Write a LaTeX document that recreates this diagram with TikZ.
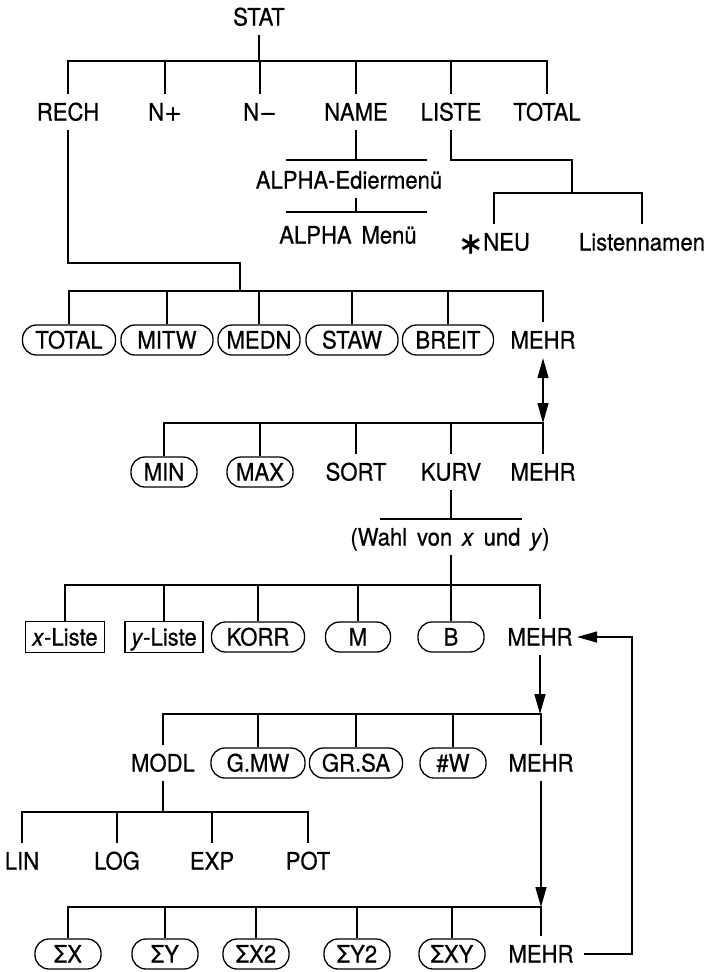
\documentclass[tikz,border=0pt]{standalone}
\usepackage{fontspec}
\setmainfont{TeX Gyre Heros}[FakeStretch=0.92,FakeBold=0.6,WordSpace=1.6]
\newfontfamily\symfont{DejaVu Sans}[FakeBold=0.8]
\newcommand{\opsym}[1]{{\symfont\fontsize{21pt}{24pt}\selectfont #1}}
\usepackage{tikz}
\usetikzlibrary{arrows.meta}
\tikzset{
  lbl/.style={inner xsep=4pt,inner ysep=9pt,text height=17pt,text depth=0pt},
  pill/.style={rectangle,rounded corners=14pt,draw,minimum width=#1,minimum height=30pt,
    inner xsep=2pt,inner ysep=0pt,text height=17pt,text depth=0pt},
  pill/.default=66pt,
  kbox/.style={rectangle,draw,minimum width=#1,minimum height=31pt,
    inner xsep=2pt,inner ysep=0pt,text height=17pt,text depth=0pt},
  tip/.style={-{Triangle[length=20pt,width=11pt]}},
  dtip/.style={{Triangle[length=20pt,width=11pt]}-{Triangle[length=20pt,width=11pt]}},
}

\begin{document}
\begin{tikzpicture}[x=1pt,y=-1pt,line width=1.3pt,font=\fontsize{24pt}{28pt}\selectfont]
\useasboundingbox (0,0) rectangle (713,972);
% horizontal levels
\coordinate (b0) at (0,61);
\coordinate (b1) at (0,193);
\coordinate (b2) at (0,291);
\coordinate (b3) at (0,423);
\coordinate (b4) at (0,585);
\coordinate (b5) at (0,714);
\coordinate (b6) at (0,812);
\coordinate (b7) at (0,907);

% STAT menu
\node[lbl] (stat) at (259,17) {STAT};
\foreach \nm/\xx/\txt in {rech/68/RECH, nplus/165/N\opsym{+}, nminus/260/N\opsym{−},
    name/356/NAME, liste/451/LISTE, total/547/TOTAL}
  \node[lbl] (\nm) at (\xx,112) {\txt};
\draw (stat.south) -- (stat |- b0);
\draw (rech.north) -- (rech |- b0) -- (total |- b0) -- (total.north);
\foreach \nm in {nplus,nminus,name,liste}
  \draw (\nm.north) -- (\nm |- b0);

% NAME
\node[lbl] (edier) at (349,180) {ALPHA-Ediermenü};
\node[lbl] (amenu) at (348,235) {ALPHA Menü};
\coordinate (l1a) at (286,160);
\coordinate (l1b) at (427,160);
\coordinate (l2a) at (286,212);
\coordinate (l2b) at (427,212);
\draw (l1a) -- (l1b);
\draw (l2a) -- (l2b);
\draw (name.south) -- (name |- l1a);
\draw (name |- edier.south) -- (name |- l2a);

% LISTE
\node[lbl] (neu) at (494,242) {{\symfont\fontsize{30pt}{30pt}\selectfont\raisebox{-3pt}{∗}}NEU};
\node[lbl] (lnamen) at (642,242) {Listennamen};
\coordinate (k1) at (572,160);
\draw (liste.south) |- (k1) -- (k1 |- b1);
\draw (neu.north) -- (neu |- b1) -- (lnamen |- b1) -- (lnamen.north);

% RECH
\coordinate (k2) at (240,263);
\draw (rech.south) |- (k2) -- (k2 |- b2);
\foreach \nm/\xx/\pw/\txt in {totalB/69/93/TOTAL, mitw/167/92/MITW, medn/259/82/MEDN,
    staw/352/92/STAW, breit/448/91/BREIT}
  \node[pill=\pw pt] (\nm) at (\xx,340) {\txt};
\node[lbl] (mehrA) at (543,340) {MEHR};
\draw (totalB.north) -- (totalB |- b2) -- (mehrA |- b2) -- (mehrA.north);
\foreach \nm in {mitw,medn,staw,breit}
  \draw (\nm.north) -- (\nm |- b2);
\draw[dtip] (mehrA.south) -- (mehrA |- b3);

% second page
\node[pill] (minK) at (164,472) {MIN};
\node[pill] (maxK) at (260,472) {MAX};
\node[lbl] (sortK) at (356,472) {SORT};
\node[lbl] (kurv) at (451,472) {KURV};
\node[lbl] (mehrB) at (543,472) {MEHR};
\draw (minK.north) -- (minK |- b3) -- (mehrB |- b3) -- (mehrB.north);
\foreach \nm in {maxK,sortK,kurv}
  \draw (\nm.north) -- (\nm |- b3);

% KURV
\node[lbl] (wahl) at (450,537) {(Wahl von \textit{x} und \textit{y})};
\coordinate (l3a) at (380,519);
\coordinate (l3b) at (522,519);
\draw (l3a) -- (l3b);
\draw (kurv.south) -- (kurv |- l3a);
\draw (kurv |- wahl.south) -- (kurv |- b4);
\node[kbox=79pt] (xl) at (65,637) {\textit{x}-Liste};
\node[kbox=78pt] (yl) at (164,637) {\textit{y}-Liste};
\foreach \nm/\xx/\pw/\txt in {korr/258/93/KORR, mM/358/65/M, bB/451/66/B}
  \node[pill=\pw pt] (\nm) at (\xx,637) {\txt};
\node[lbl] (mehrC) at (540,637) {MEHR};
\draw (xl.north) -- (xl |- b4) -- (mehrC |- b4) -- (mehrC.north);
\foreach \nm in {yl,korr,mM,bB}
  \draw (\nm.north) -- (\nm |- b4);

% third page
\draw[tip] (mehrC.south) -- (mehrC |- b5);
\node[lbl] (modl) at (163,763) {MODL};
\foreach \nm/\xx/\pw/\txt in {gmw/258/94/G.MW, grsa/356/93/GR.SA, nw/453/66/\#W}
  \node[pill=\pw pt] (\nm) at (\xx,763) {\txt};
\node[lbl] (mehrD) at (541,763) {MEHR};
\draw (modl.north) -- (modl |- b5) -- (mehrD |- b5) -- (mehrD.north);
\foreach \nm in {gmw,grsa,nw}
  \draw (\nm.north) -- (\nm |- b5);

% MODL
\foreach \nm/\xx/\txt in {lin/22/LIN, logK/117/LOG, expK/212/EXP, pot/308/POT}
  \node[lbl] (\nm) at (\xx,861) {\txt};
\draw (modl.south) -- (modl |- b6);
\draw (lin.north) -- (lin |- b6) -- (pot |- b6) -- (pot.north);
\foreach \nm in {logK,expK}
  \draw (\nm.north) -- (\nm |- b6);

% fourth page
\draw[tip] (mehrD.south) -- (mehrD |- b7);
\foreach \nm/\xx/\txt in {sx/68/ΣX, sy/165/ΣY, sxx/256/ΣX2, syy/357/ΣY2, sxy/452/ΣXY}
  \node[pill] (\nm) at (\xx,954) {\txt};
\node[lbl] (mehrE) at (541,954) {MEHR};
\draw (sx.north) -- (sx |- b7) -- (mehrE |- b7) -- (mehrE.north);
\foreach \nm in {sy,sxx,syy,sxy}
  \draw (\nm.north) -- (\nm |- b7);

% back to the third row
\coordinate (k3) at (632,0);
\draw[tip] ([xshift=6pt]mehrE.east) -- (k3 |- mehrE) -- (k3 |- mehrC) -- (mehrC.east);
\end{tikzpicture}
\end{document}
